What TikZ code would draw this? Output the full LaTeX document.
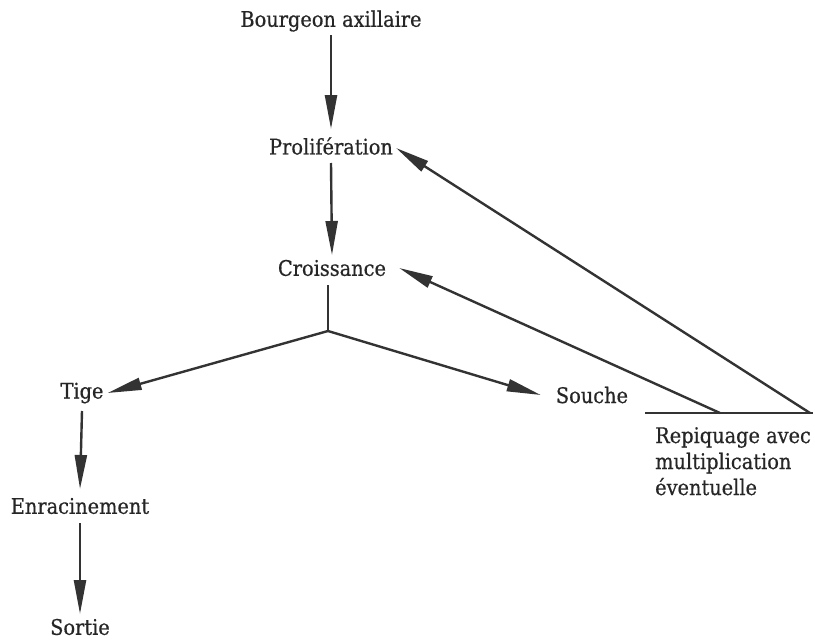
\documentclass[tikz,border=0pt]{standalone}
\usepackage{fontspec}
\setmainfont{DejaVu Serif}[FakeStretch=0.9,FakeBold=0.6]
\usetikzlibrary{arrows.meta}
\begin{document}
\begin{tikzpicture}[x=1pt,y=-1pt,
  lbl/.style={font=\fontsize{21.5}{26}\selectfont, text=black!85, inner sep=0pt, anchor=center},
  conn/.style={line width=2.4pt, draw=black!80},
  arr/.style={conn, -{Triangle[length=34pt,width=12pt]}}]
\useasboundingbox (0,0) rectangle (815,640);
\node[lbl] (bourg) at (331,21) {Bourgeon axillaire};
\node[lbl] (prol) at (331,146) {Prolifération};
\node[lbl] (cro) at (332,268) {Croissance};
\node[lbl] (tige) at (82,393) {Tige};
\node[lbl] (souche) at (592,395) {Souche};
\node[lbl] (enr) at (80,506) {Enracinement};
\node[lbl] (sort) at (80,627) {Sortie};
\node[lbl, align=left, anchor=north west] (rep) at (655,427) {Repiquage avec\\multiplication\\éventuelle};
\coordinate (j) at (328,331);
\coordinate (h1) at (645,413);
\coordinate (h2) at (813,413);
\coordinate (a) at (720,413);
\coordinate (b) at (810,413);

\draw[arr] ([yshift=-14pt]bourg.center) -- ([yshift=17pt]prol.center);
\draw[arr] ([yshift=-17pt]prol.center) -- ([yshift=13pt]cro.center);
\draw[conn] ([yshift=-17pt]cro.center -| j) -- (j);
\draw[arr] (j) -- ([xshift=4pt]tige.east);
\draw[arr] (j) -- ([xshift=-15pt]souche.west);
\draw[arr] ([yshift=-18pt]tige.center) -- ([yshift=17pt]enr.center);
\draw[arr] ([yshift=-17pt]enr.center) -- ([yshift=13pt]sort.center);
\draw[conn] (h1) -- (h2);
\draw[arr] (a) -- ([xshift=13pt]cro.east);
\draw[arr] (b) -- ([xshift=3pt,yshift=-2pt]prol.east);
\end{tikzpicture}
\end{document}
